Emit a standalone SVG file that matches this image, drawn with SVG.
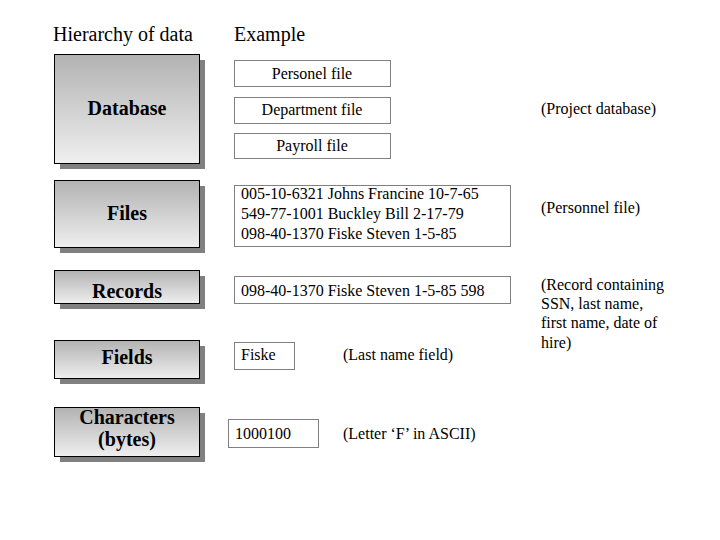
<svg xmlns="http://www.w3.org/2000/svg" width="720" height="540" viewBox="0 0 720 540">
<defs>
<linearGradient id="g" x1="0" y1="0" x2="0" y2="1">
<stop offset="0" stop-color="#b2b2b2"/>
<stop offset="1" stop-color="#efefef"/>
</linearGradient>
</defs>
<style>
text{font-family:'Liberation Serif','Times New Roman',Times,'DejaVu Serif',serif;fill:#000}
.h{font-size:20px}
.lbl{font-size:20px;font-weight:bold;text-anchor:middle}
.t{font-size:16px}
.c{text-anchor:middle}
.box{fill:url(#g);stroke:#000;stroke-width:1}
.sh{fill:#808080}
.ex{fill:#fff;stroke:#000;stroke-width:1;stroke-dasharray:1 1}
</style>
<rect width="720" height="540" fill="#fff"/>
<text class="h" x="53" y="41">Hierarchy of data</text>
<text class="h" x="234" y="41">Example</text>

<g id="database">
<rect class="sh" x="60" y="60" width="145" height="109"/>
<rect class="box" x="54.5" y="54.5" width="145" height="109"/>
<text class="lbl" x="127" y="115">Database</text>
</g>
<g id="files">
<rect class="sh" x="60" y="186" width="145" height="67"/>
<rect class="box" x="54.5" y="180.5" width="145" height="67"/>
<text class="lbl" x="127" y="220">Files</text>
</g>
<g id="records">
<rect class="sh" x="60" y="276" width="145" height="33"/>
<rect class="box" x="54.5" y="270.5" width="145" height="33"/>
<text class="lbl" x="127" y="298">Records</text>
</g>
<g id="fields">
<rect class="sh" x="60" y="346" width="145" height="38"/>
<rect class="box" x="54.5" y="340.5" width="145" height="38"/>
<text class="lbl" x="127" y="364">Fields</text>
</g>
<g id="characters">
<rect class="sh" x="60" y="413" width="145" height="49"/>
<rect class="box" x="54.5" y="407.5" width="145" height="49"/>
<text class="lbl" x="127" y="424">Characters</text>
<text class="lbl" x="127" y="446">(bytes)</text>
</g>

<g id="personel">
<rect class="ex" x="234.5" y="60.5" width="156" height="26"/>
<text class="t c" x="312" y="79">Personel file</text>
</g>
<g id="department">
<rect class="ex" x="234.5" y="97.5" width="156" height="26"/>
<text class="t c" x="312" y="115">Department file</text>
</g>
<g id="payroll">
<rect class="ex" x="234.5" y="133.5" width="156" height="25"/>
<text class="t c" x="312" y="151">Payroll file</text>
</g>
<g id="files-ex">
<rect class="ex" x="234.5" y="185.5" width="276" height="61"/>
<text class="t" x="241" y="199">005-10-6321 Johns Francine 10-7-65</text>
<text class="t" x="241" y="219">549-77-1001 Buckley Bill 2-17-79</text>
<text class="t" x="241" y="239">098-40-1370 Fiske Steven 1-5-85</text>
</g>
<g id="records-ex">
<rect class="ex" x="234.5" y="276.5" width="276" height="27"/>
<text class="t" x="241" y="296">098-40-1370 Fiske Steven 1-5-85 598</text>
</g>
<g id="fields-ex">
<rect class="ex" x="234.5" y="342.5" width="60" height="27"/>
<text class="t" x="241" y="360">Fiske</text>
<text class="t" x="343" y="360">(Last name field)</text>
</g>
<g id="chars-ex">
<rect class="ex" x="228.5" y="419.5" width="90" height="28"/>
<text class="t" x="235" y="439">1000100</text>
<text class="t" x="343" y="439">(Letter ‘F’ in ASCII)</text>
</g>
<g id="notes">
<text class="t" x="541" y="114">(Project database)</text>
<text class="t" x="541" y="213">(Personnel file)</text>
<text class="t" x="541" y="290">(Record containing</text>
<text class="t" x="541" y="309">SSN, last name,</text>
<text class="t" x="541" y="328">first name, date of</text>
<text class="t" x="541" y="348">hire)</text>
</g>
<g id="connectors"></g>
</svg>
